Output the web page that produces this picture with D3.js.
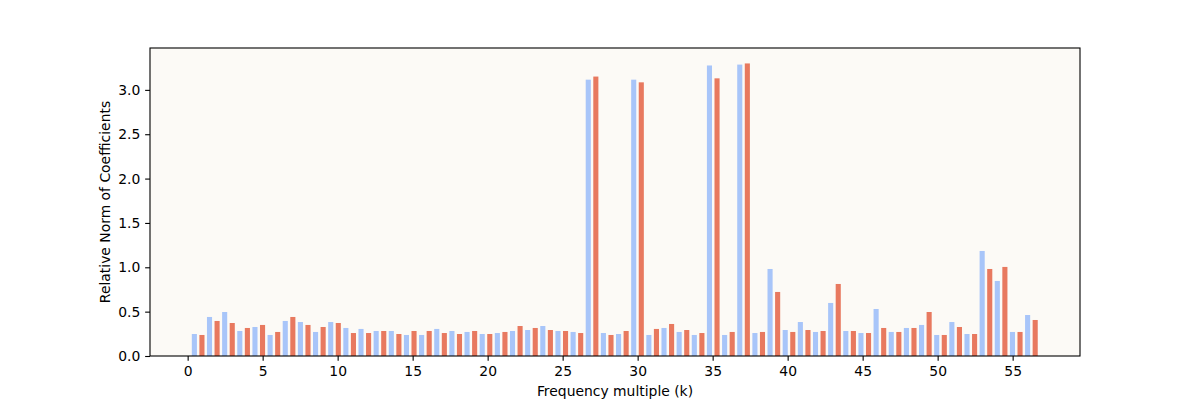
<!DOCTYPE html>
<html>
<head>
<meta charset="utf-8">
<script src="https://cdn.jsdelivr.net/npm/d3@7"></script>
<style>
  html, body { margin: 0; padding: 0; background: #ffffff; }
  svg { display: block; font-family: "DejaVu Sans", sans-serif; }
</style>
</head>
<body>
<svg id="chart" width="1200" height="400"></svg>
<script>
// Pair centre positions on the frequency-multiple axis
const kPositions = [0.70, 1.71, 2.72, 3.73, 4.74, 5.75, 6.76, 7.77, 8.78, 9.79,
  10.80, 11.81, 12.82, 13.83, 14.84, 15.85, 16.86, 17.87, 18.88, 19.89,
  20.90, 21.91, 22.92, 23.93, 24.94, 25.95, 26.96, 27.97, 28.98, 29.99,
  31.00, 32.01, 33.02, 34.03, 35.04, 36.05, 37.06, 38.07, 39.08, 40.09,
  41.10, 42.11, 43.12, 44.13, 45.14, 46.15, 47.16, 48.17, 49.18, 50.19,
  51.20, 52.21, 53.22, 54.23, 55.24, 56.25];

const seriesA = [0.248, 0.440, 0.496, 0.282, 0.327, 0.237, 0.395, 0.383, 0.271, 0.383,
  0.316, 0.305, 0.282, 0.282, 0.237, 0.237, 0.305, 0.282, 0.271, 0.248,
  0.259, 0.282, 0.293, 0.338, 0.282, 0.271, 3.115, 0.259, 0.248, 3.115,
  0.237, 0.316, 0.271, 0.237, 3.275, 0.237, 3.285, 0.259, 0.981, 0.293,
  0.383, 0.271, 0.598, 0.282, 0.259, 0.530, 0.271, 0.316, 0.350, 0.237,
  0.383, 0.248, 1.184, 0.846, 0.271, 0.462];

const seriesB = [0.237, 0.395, 0.372, 0.316, 0.350, 0.271, 0.440, 0.350, 0.327, 0.372,
  0.259, 0.259, 0.282, 0.248, 0.282, 0.282, 0.259, 0.248, 0.282, 0.248,
  0.271, 0.338, 0.316, 0.293, 0.282, 0.259, 3.150, 0.237, 0.282, 3.085,
  0.305, 0.361, 0.293, 0.259, 3.130, 0.271, 3.298, 0.271, 0.722, 0.271,
  0.293, 0.282, 0.812, 0.282, 0.259, 0.316, 0.271, 0.316, 0.496, 0.237,
  0.327, 0.248, 0.981, 1.004, 0.271, 0.406];

const xTicks = [0, 5, 10, 15, 20, 25, 30, 35, 40, 45, 50, 55];
const yTicks = [0.0, 0.5, 1.0, 1.5, 2.0, 2.5, 3.0];

const colorA = "#a8c5f9";
const colorB = "#e8795f";

const svg = d3.select("#chart");
const L = 150, R = 1080, T = 48, B = 356;

const x = d3.scaleLinear().domain([-2.51, 59.49]).range([L, R]);
const y = d3.scaleLinear().domain([0, 3.472]).range([B, T]);

const barW = 0.34, offset = 0.2525;

svg.append("rect").attr("x", L).attr("y", T).attr("width", R - L).attr("height", B - T)
  .attr("fill", "#fcfaf6");

const g = svg.append("g");
g.selectAll("rect.a").data(kPositions).join("rect").attr("class", "a")
  .attr("x", (d) => x(d - offset - barW / 2))
  .attr("width", (d) => x(d - offset + barW / 2) - x(d - offset - barW / 2))
  .attr("y", (d, i) => y(seriesA[i]))
  .attr("height", (d, i) => y(0) - y(seriesA[i]))
  .attr("fill", colorA);
g.selectAll("rect.b").data(kPositions).join("rect").attr("class", "b")
  .attr("x", (d) => x(d + offset - barW / 2))
  .attr("width", (d) => x(d + offset + barW / 2) - x(d + offset - barW / 2))
  .attr("y", (d, i) => y(seriesB[i]))
  .attr("height", (d, i) => y(0) - y(seriesB[i]))
  .attr("fill", colorB);

const tickLen = 4.86, pad = 4.86;
const xAxis = d3.axisBottom(x).tickValues(xTicks).tickFormat(d3.format("d"))
  .tickSizeInner(tickLen).tickSizeOuter(0).tickPadding(pad);
const yAxis = d3.axisLeft(y).tickValues(yTicks).tickFormat(d3.format(".1f"))
  .tickSizeInner(tickLen).tickSizeOuter(0).tickPadding(pad);

const gx = svg.append("g").attr("transform", `translate(0,${B})`).call(xAxis);
const gy = svg.append("g").attr("transform", `translate(${L},0)`).call(yAxis);
[gx, gy].forEach((ax) => {
  ax.select(".domain").remove();
  ax.selectAll(".tick line").attr("stroke", "#000").attr("stroke-width", 1.1);
  ax.selectAll(".tick text").attr("fill", "#000")
    .style("font-family", "DejaVu Sans").style("font-size", "13.9px");
});

// spines
svg.append("rect").attr("x", L).attr("y", T).attr("width", R - L).attr("height", B - T)
  .attr("fill", "none").attr("stroke", "#000").attr("stroke-width", 1.1);

svg.append("text").attr("x", (L + R) / 2).attr("y", 396)
  .attr("text-anchor", "middle").style("font-size", "13.9px").attr("fill", "#000")
  .text("Frequency multiple (k)");
svg.append("text").attr("transform", `translate(110,${(T + B) / 2}) rotate(-90)`)
  .attr("text-anchor", "middle").style("font-size", "13.9px").attr("fill", "#000")
  .text("Relative Norm of Coefficients");
</script>
</body>
</html>
